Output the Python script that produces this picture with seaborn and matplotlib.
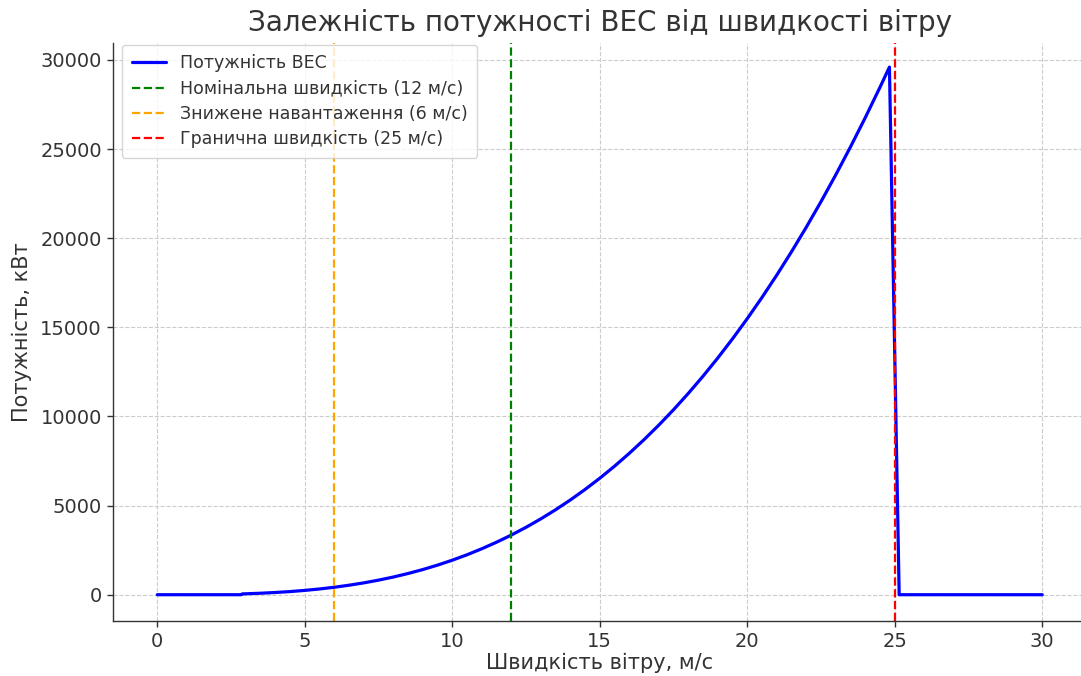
import numpy as np
import pandas as pd
import matplotlib
matplotlib.use("Agg")
import matplotlib.pyplot as plt
import seaborn as sns

# Wind speed (m/s) and turbine power (kW)
speed = [0, 1, 2, 2.85, 2.88, 3, 3.5, 4, 4.5, 5, 5.5, 6, 6.5, 7, 7.5, 8, 8.5, 9, 9.5,
         10, 10.5, 11, 11.5, 12, 12.5, 13, 13.5, 14, 14.5, 15, 15.5, 16, 16.5, 17,
         17.5, 18, 18.5, 19, 19.5, 20, 20.5, 21, 21.5, 22, 22.5, 23, 23.5, 24, 24.5,
         24.82, 25.15, 26, 28, 30]
power = [0, 0, 0, 0, 46, 52, 83, 124, 176, 242, 322, 418, 532, 664, 817, 991, 1189,
         1411, 1660, 1936, 2241, 2577, 2945, 3345, 3781, 4253, 4763, 5312, 5903, 6534,
         7209, 7930, 8697, 9512, 10376, 11291, 12259, 13279, 14355, 15488, 16679,
         17930, 19241, 20615, 22052, 23555, 25125, 26763, 28470, 29600, 0,
         0, 0, 0]

series_label = "Потужність ВЕС"
vline_speeds = [12, 6, 25]
vline_labels = ["Номінальна швидкість (12 м/с)",
                "Знижене навантаження (6 м/с)",
                "Гранична швидкість (25 м/с)"]
vline_colors = ["green", "orange", "red"]

title = "Залежність потужності ВЕС від швидкості вітру"
xlabel = "Швидкість вітру, м/с"
ylabel = "Потужність, кВт"

df = pd.DataFrame({"speed": speed, "power": power})

sns.set_theme(style="whitegrid")
plt.rcParams["font.family"] = ["DejaVu Sans"]
plt.rcParams["grid.linestyle"] = "--"

fig = plt.figure(figsize=(10.81, 6.76), dpi=100)
ax = fig.add_axes([113 / 1081, 55 / 676, 973.5 / 1081, 578.4 / 676])

sns.lineplot(data=df, x="speed", y="power", ax=ax, color="blue", linewidth=2.3,
             sort=False, label=series_label)
for s, lab, c in zip(vline_speeds, vline_labels, vline_colors):
    ax.axvline(s, color=c, linestyle="--", linewidth=1.6, label=lab)

ax.set_xlim(-1.5, 31.5)
ax.set_ylim(-1475, 30975)
ax.set_xticks([0, 5, 10, 15, 20, 25, 30])
ax.set_yticks([0, 5000, 10000, 15000, 20000, 25000, 30000])

ax.grid(True, color="#cccccc", linestyle="--", linewidth=0.8)
ax.set_facecolor("white")
for sp in ["top", "right"]:
    ax.spines[sp].set_visible(False)
for sp in ["left", "bottom"]:
    ax.spines[sp].set_color("#333333")
    ax.spines[sp].set_linewidth(1.0)
ax.tick_params(axis="both", which="major", labelsize=14, colors="#333333",
               length=4, width=1, bottom=True, left=True, pad=4)

ax.set_title(title, fontsize=20, color="#333333", pad=8)
ax.set_xlabel(xlabel, fontsize=15, color="#333333", labelpad=1)
ax.set_ylabel(ylabel, fontsize=15, color="#333333", labelpad=6)

leg = ax.legend(loc="upper left", bbox_to_anchor=(0.0092, 0.996), fontsize=12.5,
                frameon=True, framealpha=0.8, borderaxespad=0.0,
                borderpad=0.55, labelspacing=0.42)
for t in leg.get_texts():
    t.set_color("#333333")

fig.savefig("out.png", dpi=100)
